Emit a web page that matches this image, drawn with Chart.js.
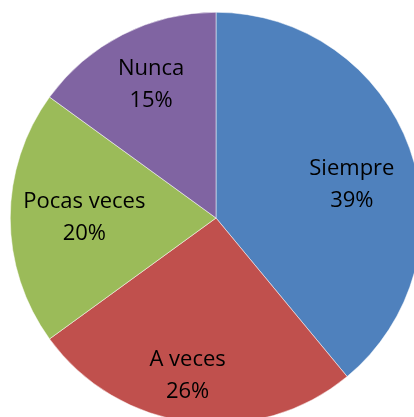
<!DOCTYPE html>
<html>
<head>
<meta charset="utf-8">
<script src="https://cdn.jsdelivr.net/npm/chart.js@4"></script>
<style>
  html, body { margin: 0; padding: 0; background: #fff; overflow: hidden; }
  #wrap { position: absolute; left: 0; top: 0; width: 432px; height: 436px; }
</style>
</head>
<body>
<div id="wrap"><canvas id="pieChart" width="432" height="436"></canvas></div>
<script>
const categories = ["Siempre", "A veces", "Pocas veces", "Nunca"];
const values = [39, 26, 20, 15];
const colors = ["#4F81BD", "#C0504D", "#9BBB59", "#8064A2"];

// label placement tweaks (fraction of radius, angle shift in degrees)
const labelRadius = [0.68, 0.78, 0.64, 0.72];
const labelShift = [6, 3, 0, 1];

const sliceLabels = {
    id: "sliceLabels",
    afterDatasetsDraw(chart) {
        const ctx = chart.ctx;
        const meta = chart.getDatasetMeta(0);
        const total = values.reduce((a, b) => a + b, 0);
        ctx.save();
        ctx.fillStyle = "#000";
        ctx.font = "22px 'Open Sans', sans-serif";
        ctx.textAlign = "center";
        ctx.textBaseline = "middle";
        meta.data.forEach((arc, i) => {
            const mid = (arc.startAngle + arc.endAngle) / 2 + labelShift[i] * Math.PI / 180;
            const r = arc.outerRadius * labelRadius[i];
            const x = arc.x + Math.cos(mid) * r;
            const y = arc.y + Math.sin(mid) * r;
            const pct = Math.round(values[i] / total * 100) + "%";
            ctx.fillText(categories[i], x, y - 16);
            ctx.fillText(pct, x, y + 16);
        });
        ctx.restore();
    }
};

new Chart(document.getElementById("pieChart").getContext("2d"), {
    type: "pie",
    data: {
        labels: categories,
        datasets: [{
            data: values,
            backgroundColor: colors,
            borderColor: "#ffffff",
            borderWidth: 0.5,
        }]
    },
    options: {
        responsive: false,
        animation: false,
        layout: { padding: 10 },
        plugins: {
            legend: { display: false },
            tooltip: { enabled: false }
        }
    },
    plugins: [sliceLabels]
});
</script>
</body>
</html>
